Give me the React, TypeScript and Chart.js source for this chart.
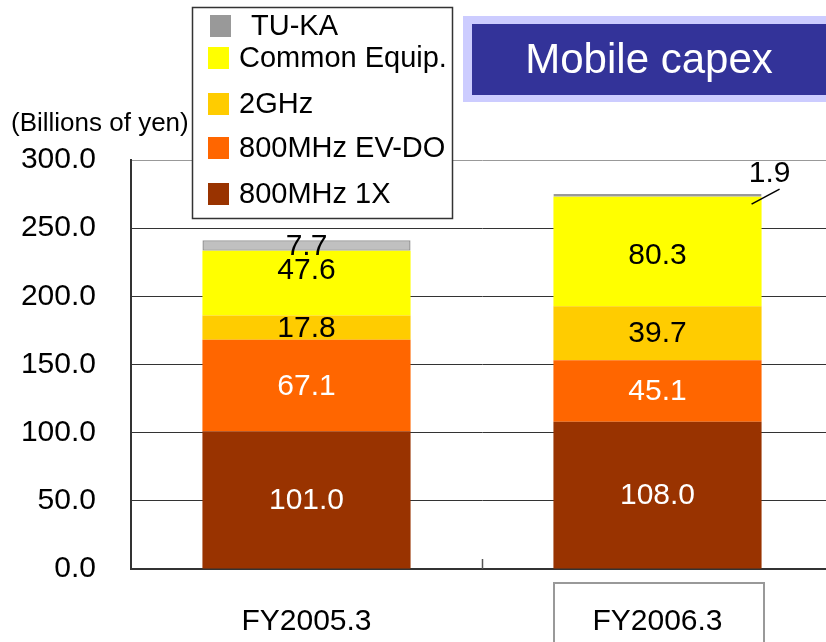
import React, { useEffect, useRef } from 'react';
import { Chart, registerables } from 'chart.js';

Chart.register(...registerables);

const FONT = "'Liberation Sans', Arial, Helvetica, sans-serif";

// ---- data ----
const categories = ['FY2005.3', 'FY2006.3'];
const series1X = [101.0, 108.0];
const seriesEVDO = [67.1, 45.1];
const series2GHz = [17.8, 39.7];
const seriesCommon = [47.6, 80.3];
const seriesTUKA = [7.7, 1.9];
const seriesNames = ['800MHz 1X', '800MHz EV-DO', '2GHz', 'Common Equip.', 'TU-KA'];
const yMin = 0;
const yMax = 300;
const yStep = 50;
const yUnit = '(Billions of yen)';
const titleText = 'Mobile capex';

export default function App() {
  const ref = useRef<HTMLCanvasElement>(null);

  useEffect(() => {
    const canvas = ref.current;
    if (!canvas) return;

    const labelColors = ['#ffffff', '#ffffff', '#000000', '#000000', '#000000'];
    const legendColors = ['#993300', '#FF6600', '#FFCC00', '#FFFF00', '#999999'];

    const overlay = {
      id: 'overlay',
      afterDatasetsDraw(chart: any) {
        const ctx = chart.ctx as CanvasRenderingContext2D;
        const area = chart.chartArea;
        ctx.save();
        // category boundary tick
        const m0 = chart.getDatasetMeta(0);
        if (m0.data.length > 1) {
          const bx = Math.round((m0.data[0].x + m0.data[1].x) / 2) + 0.5;
          ctx.strokeStyle = '#555';
          ctx.lineWidth = 1.5;
          ctx.beginPath();
          ctx.moveTo(bx, area.bottom);
          ctx.lineTo(bx, area.bottom - 10);
          ctx.stroke();
        }
        // data labels
        ctx.font = `30px ${FONT}`;
        ctx.textAlign = 'center';
        ctx.textBaseline = 'middle';
        chart.data.datasets.forEach((ds: any, di: number) => {
          const meta = chart.getDatasetMeta(di);
          meta.data.forEach((bar: any, i: number) => {
            const v = ds.data[i];
            const top = Math.min(bar.y, bar.base);
            const bottom = Math.max(bar.y, bar.base);
            const h = bottom - top;
            const txt = Number(v).toFixed(1);
            if (h < 6) {
              const right = bar.x + bar.width / 2;
              ctx.strokeStyle = '#000';
              ctx.lineWidth = 1.5;
              ctx.beginPath();
              ctx.moveTo(right - 10, top + 10);
              ctx.lineTo(right + 18, top - 5);
              ctx.stroke();
              ctx.fillStyle = '#000';
              ctx.fillText(txt, right + 8, top - 20);
            } else {
              const off = (ds.labelOffsets && ds.labelOffsets[i]) || 0;
              ctx.fillStyle = labelColors[di];
              ctx.fillText(txt, bar.x, (top + bottom) / 2 + 1 + off);
            }
          });
        });
        ctx.restore();
      },
      afterDraw(chart: any) {
        const ctx = chart.ctx as CanvasRenderingContext2D;
        ctx.save();
        // unit label
        ctx.font = `26px ${FONT}`;
        ctx.fillStyle = '#000';
        ctx.textAlign = 'left';
        ctx.textBaseline = 'middle';
        ctx.fillText(yUnit, 11, 124);

        // legend box
        ctx.fillStyle = '#fff';
        ctx.fillRect(193, 7, 260, 211);
        ctx.strokeStyle = '#333';
        ctx.lineWidth = 1.5;
        ctx.strokeRect(192.5, 7.5, 260, 211);
        const rows = [26, 58, 104, 148, 194];
        const order = [4, 3, 2, 1, 0];
        ctx.font = `29px ${FONT}`;
        ctx.textBaseline = 'middle';
        order.forEach((di, r) => {
          const ds = chart.data.datasets[di];
          const y = rows[r];
          const sx = di === 4 ? 210 : 208;
          const tx = di === 4 ? 251 : 239;
          ctx.fillStyle = legendColors[di];
          ctx.fillRect(sx, y - 11, 21, 22);
          ctx.fillStyle = '#000';
          ctx.fillText(ds.label, tx, y + 1);
        });

        // title box
        ctx.fillStyle = '#CCCCFF';
        ctx.fillRect(463, 16, 400, 86);
        ctx.fillStyle = '#333399';
        ctx.fillRect(472, 24, 400, 71);
        ctx.fillStyle = '#fff';
        ctx.font = `42px ${FONT}`;
        ctx.textAlign = 'center';
        ctx.fillText(titleText, 649, 61);

        // box around the second category label
        const meta = chart.getDatasetMeta(0);
        const b = meta.data[1];
        if (b) {
          ctx.strokeStyle = '#999';
          ctx.lineWidth = 2;
          ctx.strokeRect(Math.round(b.x - b.width / 2) + 1, 583, 210, 80);
        }
        ctx.restore();
      },
    };

    const chart = new Chart(canvas, {
      type: 'bar',
      data: {
        labels: categories,
        datasets: [
          { label: seriesNames[0], data: series1X, backgroundColor: '#993300' },
          { label: seriesNames[1], data: seriesEVDO, backgroundColor: '#FF6600' },
          { label: seriesNames[2], data: series2GHz, backgroundColor: '#FFCC00' },
          { label: seriesNames[3], data: seriesCommon, backgroundColor: '#FFFF00', labelOffsets: [-13, 3] } as any,
          { label: seriesNames[4], data: seriesTUKA, backgroundColor: '#C0C0C0', borderColor: '#999999', borderWidth: 1.5, borderSkipped: false } as any,
        ],
      },
      options: {
        responsive: false,
        animation: false,
        devicePixelRatio: 1,
        layout: { padding: { top: 160, right: 9, left: 0, bottom: 0 } },
        plugins: { legend: { display: false }, tooltip: { enabled: false }, title: { display: false } },
        datasets: { bar: { barPercentage: 0.593, categoryPercentage: 1 } },
        scales: {
          x: {
            stacked: true,
            grid: { display: false },
            border: { display: true, color: '#333', width: 2 },
            ticks: { font: { family: FONT, size: 30 }, color: '#000', padding: 27 },
            afterFit: (s: any) => { s.height = 73; },
          },
          y: {
            stacked: true,
            min: yMin,
            max: yMax,
            ticks: {
              stepSize: yStep,
              callback: (v: any) => Number(v).toFixed(1),
              font: { family: FONT, size: 30 },
              color: '#000',
              padding: 35,
            },
            grid: {
              color: (c: any) => (c.tick && c.tick.value === yMax ? '#999' : '#333'),
              lineWidth: 1,
              drawTicks: false,
            },
            border: { display: true, color: '#333', width: 2 },
            afterFit: (s: any) => { s.width = 131; },
          },
        },
      } as any,
      plugins: [overlay],
    });
    return () => chart.destroy();
  }, []);

  return (
    <div style={{ position: 'fixed', left: 0, top: 0, width: 826, height: 642, overflow: 'hidden', background: '#fff' }}>
      <canvas ref={ref} width={842} height={642} style={{ width: 842, height: 642, display: 'block' }} />
    </div>
  );
}
